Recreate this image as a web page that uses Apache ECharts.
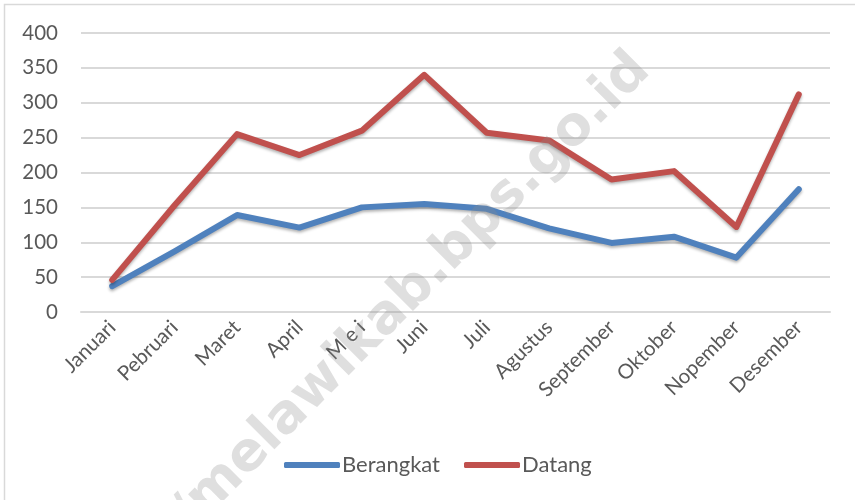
<!DOCTYPE html>
<html>
<head>
<meta charset="utf-8">
<script src="https://cdn.jsdelivr.net/npm/echarts@6/dist/echarts.min.js"></script>
<style>
html, body { margin: 0; padding: 0; background: #fff; }
#chart { width: 855px; height: 500px; }
</style>
</head>
<body>
<div id="chart"></div>
<script>
// data
const months = ['Januari', 'Pebruari', 'Maret', 'April', 'M e i', 'Juni', 'Juli', 'Agustus', 'September', 'Oktober', 'Nopember', 'Desember']
const berangkat = [37, 87, 139, 121, 150, 155, 148, 120, 99, 108, 78, 176]
const datang = [46, 153, 255, 225, 260, 340, 257, 246, 190, 202, 122, 312]
const yTicks = [0, 50, 100, 150, 200, 250, 300, 350, 400]

const font = 'Lato, "Open Sans", sans-serif'
const textColor = '#595959'
const gridColor = '#d9d9d9'

const chart = echarts.init(document.getElementById('chart'))

const lineSeries = (name, data, color) => ({
  name,
  type: 'line',
  data,
  symbol: 'none',
  lineStyle: {
    color,
    width: 6,
    cap: 'round',
    join: 'round',
    shadowColor: 'rgba(0,0,0,0.3)',
    shadowBlur: 3,
    shadowOffsetY: 2
  },
  itemStyle: { color }
})

chart.setOption({
  animation: false,
  grid: { left: 81, right: 25, top: 33, bottom: 188, outerBoundsMode: 'none', containLabel: false },
  legend: {
    left: 279,
    top: 449,
    icon: 'roundRect',
    itemWidth: 56,
    itemHeight: 6,
    itemGap: 24,
    textStyle: { fontFamily: font, fontSize: 22, color: textColor, padding: [0, 0, 0, -3] },
    data: ['Berangkat', 'Datang']
  },
  xAxis: {
    type: 'category',
    data: months,
    boundaryGap: true,
    axisLine: { show: true, lineStyle: { color: gridColor, width: 2 } },
    axisTick: { show: false },
    axisLabel: { rotate: 45, margin: 12, fontFamily: font, fontSize: 20.5, color: textColor, interval: 0 }
  },
  yAxis: {
    type: 'value',
    min: yTicks[0],
    max: yTicks[yTicks.length - 1],
    interval: 50,
    axisLine: { show: false },
    axisTick: { show: false },
    splitLine: { lineStyle: { color: gridColor, width: 2 } },
    axisLabel: { margin: 23, fontFamily: font, fontSize: 20.5, color: textColor }
  },
  series: [
    lineSeries('Berangkat', berangkat, '#4f81bd'),
    lineSeries('Datang', datang, '#c0504d')
  ],
  graphic: [
    {
      type: 'polyline',
      silent: true,
      shape: { points: [[4.5, 500], [4.5, 4.5], [855, 4.5]] },
      style: { stroke: gridColor, lineWidth: 1.5, fill: null }
    },
    {
      type: 'text',
      silent: true,
      z: 100,
      x: 642,
      y: 62,
      rotation: Math.PI / 4,
      style: {
        text: 'https://melawikab.bps.go.id',
        fontFamily: '"DejaVu Sans", sans-serif',
        fontWeight: 'bold',
        fontSize: 54,
        fill: 'rgba(140,140,140,0.28)',
        align: 'right',
        verticalAlign: 'middle'
      }
    }
  ]
})
</script>
</body>
</html>
